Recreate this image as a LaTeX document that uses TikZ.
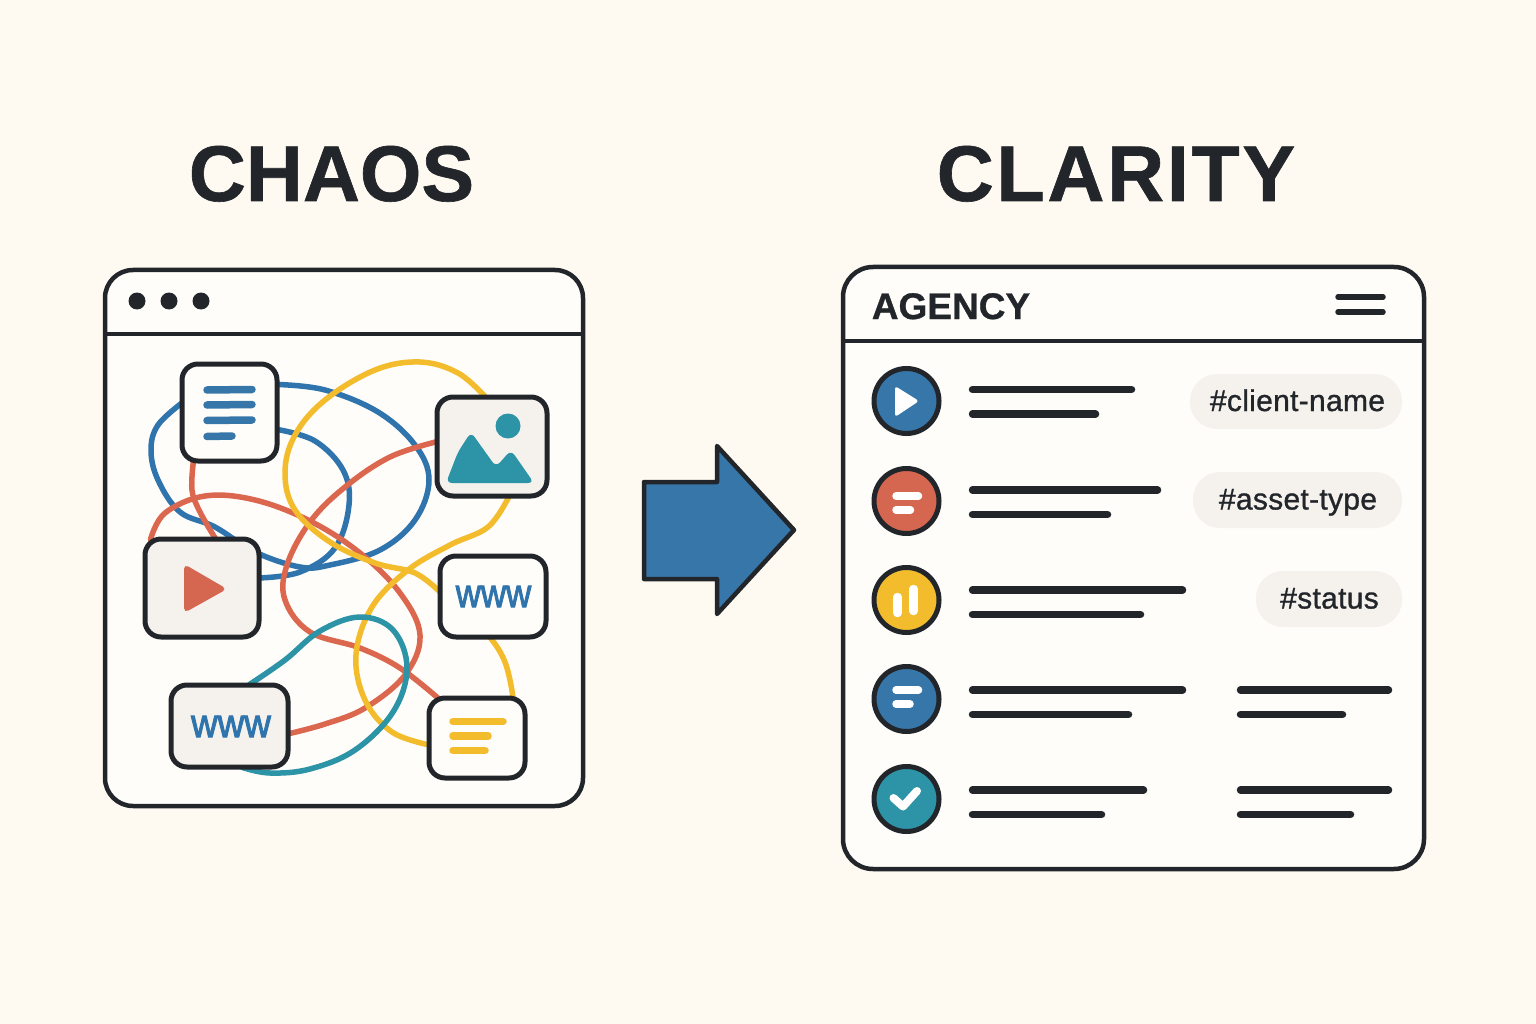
\documentclass[tikz,border=0pt]{standalone}
\usepackage{fontspec}
\usetikzlibrary{calc,backgrounds}
\setmainfont{Liberation Sans}
\newfontfamily\tagfont[FakeBold=1,LetterSpace=1]{Liberation Sans}
\newfontfamily\webfont[FakeBold=2.5]{Liberation Sans}
\newfontfamily\chaosfont[FakeBold=0.8]{Liberation Sans Bold}
\newfontfamily\clarityfont[FakeBold=0.8,LetterSpace=3.4]{Liberation Sans Bold}
\newfontfamily\agencyfont[FakeBold=0.8]{Liberation Sans Bold}
\definecolor{bgc}{HTML}{FFFAF1}
\definecolor{paper}{HTML}{FFFDF9}
\definecolor{beige}{HTML}{F5F1EC}
\definecolor{ink}{HTML}{22262B}
\definecolor{cblue}{HTML}{2F74AD}
\definecolor{fblue}{HTML}{3676A9}
\definecolor{cred}{HTML}{DB674F}
\definecolor{fred}{HTML}{D5664F}
\definecolor{cyel}{HTML}{F3BC2C}
\definecolor{cteal}{HTML}{2D93A6}
\tikzset{
  win/.style={draw=ink,line width=4.5pt,fill=paper,inner sep=0pt,rounded corners=28pt},
  card/.style={draw=ink,line width=5pt,inner sep=0pt,rounded corners=16pt},
  curve/.style={line width=5.5pt,line cap=round,line join=round},
  bar/.style={line width=7.5pt,line cap=round,draw=ink},
  ibar/.style={line width=7.5pt,line cap=round},
  badge/.style={circle,draw=ink,line width=5pt,minimum size=65pt,inner sep=0pt},
  pill/.style={fill=beige,rounded corners=27pt,inner sep=0pt},
  tagtext/.style={font=\tagfont\fontsize{30}{30}\selectfont,text=ink,inner sep=0pt,anchor=base},
  title/.style={text=ink,inner sep=0pt,anchor=base},
  webtext/.style={font=\webfont\fontsize{40}{40}\selectfont,text=cblue,inner sep=0pt,anchor=base}
}
\begin{document}
\begin{tikzpicture}[x=1pt,y=-1pt]
\useasboundingbox (0,0) rectangle (1536,1024);
% cards
\node[card,fill=paper,minimum width=95pt,minimum height=97pt] (doc) at (229.5,412.5) {};
\node[card,fill=beige,minimum width=110pt,minimum height=99pt] (img) at (492,446.5) {};
\node[card,fill=beige,minimum width=114pt,minimum height=98pt] (vid) at (202,588) {};
\node[card,fill=paper,minimum width=106pt,minimum height=81pt] (webA) at (493,596.5) {};
\node[card,fill=beige,minimum width=117pt,minimum height=82pt] (webB) at (229.5,726) {};
\node[card,fill=paper,minimum width=96pt,minimum height=80pt] (note) at (477,738) {};
% windows
\begin{scope}[on background layer]
\fill[bgc] (0,0) rectangle (1536,1024);
\node[win,minimum width=478pt,minimum height=536pt] (chaoswin) at (344,538) {};
\draw[ink,line width=4.5pt] (chaoswin.west |- 0,334) -- (chaoswin.east |- 0,334);
% curves
\draw[curve,cblue] plot[smooth,tension=0.62] coordinates {($(doc.east)+(-2,-28)$) (325,390) (378,412) (415,445) (429,480) (415,520) (380,550) (330,565) (300,567) (255,552) (215,527) (180,512) (158,480) (151,450) (158,425) ($(doc.west)+(3,-10)$)};
\draw[curve,cblue] plot[smooth,tension=0.62] coordinates {($(doc.east)+(-2,17)$) (315,441) (343,470) (349,505) (335,548) (300,572) ($(vid.east)+(-3,-10)$)};
\draw[curve,cred] plot[smooth,tension=0.62] coordinates {($(vid.north west)+(8,3)$) (165,513) (205,496) (255,500) (310,521) (360,553) (400,593) (420,635) (405,675) (365,708) (325,724) ($(webB.east)+(-3,8)$)};
\draw[curve,cred] plot[smooth,tension=0.62] coordinates {($(doc.south)+(-36,-3)$) (192,490) (200,512) ($(vid.north)+(14,3)$)};
\draw[curve,cred] plot[smooth,tension=0.62] coordinates {($(img.west)+(3,-5)$) (390,457) (345,487) (310,522) (287,565) (285,600) (310,632) (360,648) (400,668) ($(note.north west)+(12,3)$)};
\draw[curve,cyel] plot[smooth,tension=0.62] coordinates {($(img.north)+(-6,3)$) (458,373) (420,362) (375,370) (325,400) (295,435) (285,473) (295,510) (330,542) (375,563) (415,573) ($(webA.west)+(3,-4)$)};
\draw[curve,cyel] plot[smooth,tension=0.62] coordinates {($(img.south)+(17,-2)$) (488,527) (450,545) (408,570) (372,607) (356,655) (365,700) (392,732) ($(note.west)+(3,7)$)};
\draw[curve,cyel] plot[smooth,tension=0.8] coordinates {($(webA.south)+(-3,-2)$) (505,662) ($(note.north)+(36,2)$)};
\draw[curve,cteal] plot[smooth,tension=0.62] coordinates {($(webB.north)+(20,2)$) (285,660) (320,631) (360,617) (393,630) (407,668) (393,712) (355,750) (310,769) (270,773) ($(webB.south)+(13,-2)$)};
\end{scope}
% left chrome
\fill[ink] (137,301) circle [radius=8.5];
\fill[ink] (169,301) circle [radius=8.5];
\fill[ink] (201,301) circle [radius=8.5];
% titles
\node[title,font=\chaosfont\fontsize{79}{79}\selectfont] (chaos) at (331.5,201) {CHAOS};
\node[title,font=\clarityfont\fontsize{79}{79}\selectfont] (clarity) at (1116,201) {CLARITY};
% icons in cards
\draw[ibar,fblue] (207,390) -- (252,389.5);
\draw[ibar,fblue] (207,405) -- (252,404.5);
\draw[ibar,fblue] (207,420.5) -- (252,420);
\draw[ibar,fblue] (207,436.5) -- (232,436);
\fill[cteal] (508,426) circle [radius=12.5];
\fill[cteal,rounded corners=6pt] (446,483) -- (458,452) -- (471,432) -- (496,467) -- (511,450) -- (534,483) -- cycle;
\fill[fred,rounded corners=5pt] (184,564) -- (227,589) -- (184,613) -- cycle;
\node[webtext] (wwwA) at (493.5,607) {\scalebox{0.87}[1]{www}};
\node[webtext] (wwwB) at (231,737) {\scalebox{0.92}[1]{www}};
\draw[ibar,cyel] (453,721.5) -- (503,721.5);
\draw[ibar,cyel] (453,736) -- (488,736);
\draw[ibar,cyel] (453,750.5) -- (485,750.5);
% arrow
\draw[ink,line width=4.5pt,fill=fblue,line join=round] (644,482) -- (717,482) -- (717,446) -- (794,530) -- (717,614) -- (717,579) -- (644,579) -- cycle;
% right window
\node[win,minimum width=581pt,minimum height=602pt,rounded corners=30pt,fill=paper] (claritywin) at (1133.5,568) {};
\draw[ink,line width=4.5pt] (claritywin.west |- 0,341) -- (claritywin.east |- 0,341);
\node[title,font=\agencyfont\fontsize{37}{37}\selectfont] (agency) at (951,319) {AGENCY};
\draw[ink,line width=5.5pt,line cap=round] (1338,297) -- (1383,297);
\draw[ink,line width=5.5pt,line cap=round] (1338,312) -- (1383,312);
% badges
\node[badge,fill=fblue] (b1) at (906.5,401) {};
\node[badge,fill=fred] (b2) at (906.5,501) {};
\node[badge,fill=cyel] (b3) at (906.5,600) {};
\node[badge,fill=fblue] (b4) at (906.5,699) {};
\node[badge,fill=cteal] (b5) at (906.5,799) {};
\fill[white,rounded corners=3pt] (895,386) -- (919,401) -- (895,417) -- cycle;
\draw[ibar,white] (896,496) -- (918.5,496);
\draw[ibar,white] (896,510) -- (910.5,510);
\draw[white,line width=8.5pt,line cap=round] (897.5,597) -- (897.5,613);
\draw[white,line width=8.5pt,line cap=round] (913.5,589) -- (913.5,611);
\draw[ibar,white] (896,690) -- (918.5,690);
\draw[ibar,white] (896,704) -- (910,704);
\draw[white,line width=8pt,line cap=round,line join=round] (893.5,798) -- (903,806.5) -- (917,791);
% text bars
\draw[bar] (972.5,389.5) -- (1131.5,389.5);
\draw[bar] (972.5,414) -- (1095.5,414);
\draw[bar] (972.5,490) -- (1157.5,490);
\draw[bar] (972.5,514.5) -- (1107.5,514.5);
\draw[bar] (972.5,590) -- (1182.5,590);
\draw[bar] (972.5,614.5) -- (1140.5,614.5);
\draw[bar] (972.5,690) -- (1182.5,690);
\draw[bar] (972.5,714.5) -- (1128.5,714.5);
\draw[bar] (1240.5,690) -- (1388.5,690);
\draw[bar] (1240.5,714.5) -- (1342.5,714.5);
\draw[bar] (972.5,790) -- (1143.5,790);
\draw[bar] (972.5,814.5) -- (1101.5,814.5);
\draw[bar] (1240.5,790) -- (1388.5,790);
\draw[bar] (1240.5,814.5) -- (1350.5,814.5);
% tags
\fill[pill] (1190,374) rectangle (1402,429);
\fill[pill] (1193,472) rectangle (1402,528);
\fill[pill] (1256,571) rectangle (1402,627);
\node[tagtext] (t1) at (1297.5,411) {\#client-name};
\node[tagtext] (t2) at (1298,509.5) {\#asset-type};
\node[tagtext] (t3) at (1329.5,608.5) {\#status};
\end{tikzpicture}
\end{document}
